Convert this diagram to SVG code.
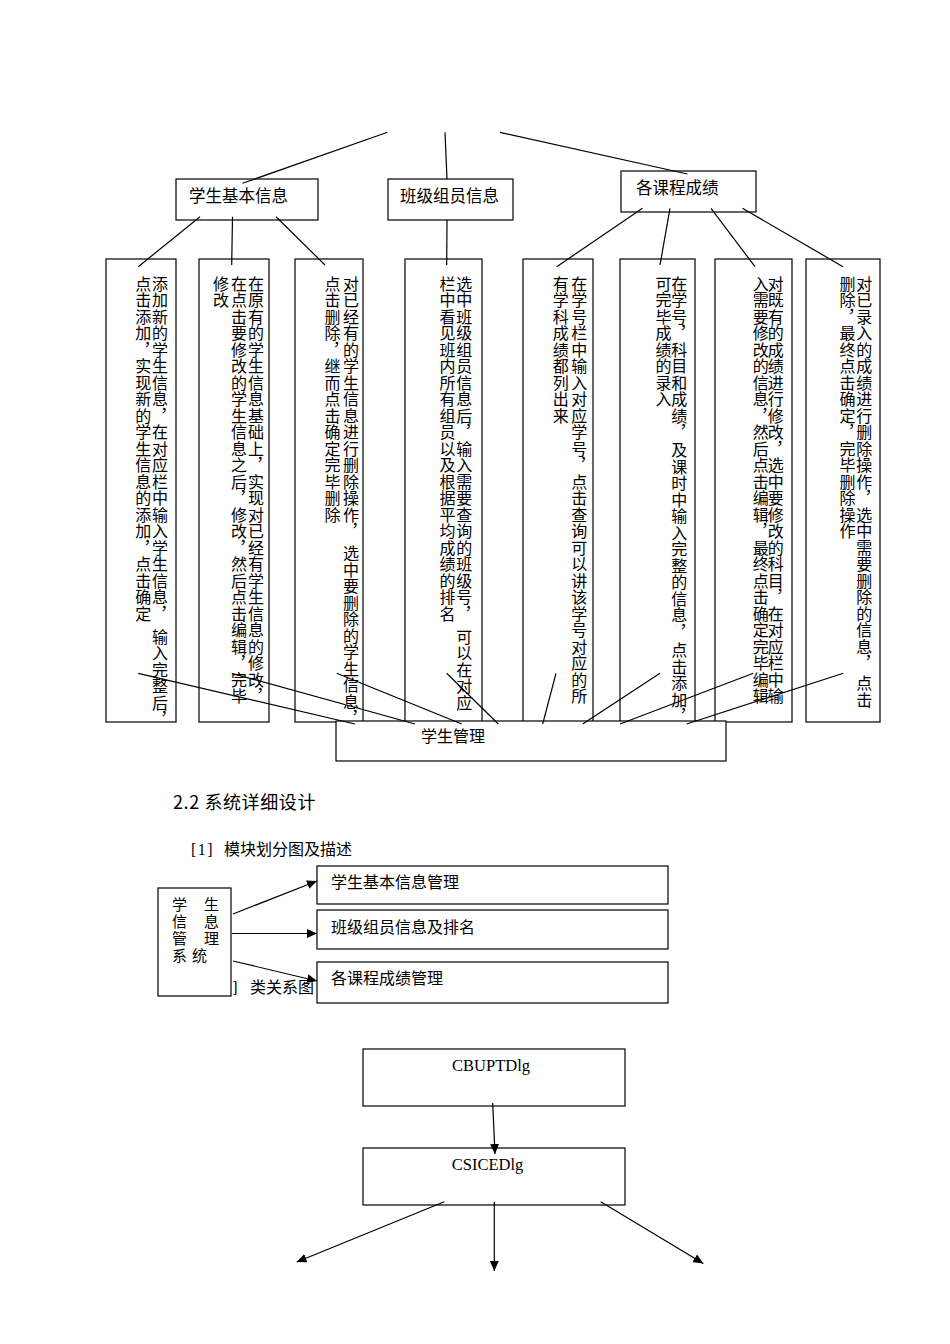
<svg xmlns="http://www.w3.org/2000/svg" width="950" height="1344" viewBox="0 0 950 1344">
<style>
.box{fill:#fff;stroke:#000;stroke-width:1.2}
.ln{stroke:#000;stroke-width:1.2;fill:none}
.t{font-family:"Noto Sans CJK SC","Noto Sans",sans-serif;font-size:16px;fill:#000}
.vt{font-family:"Noto Sans CJK SC",sans-serif;font-size:16px;writing-mode:vertical-rl;letter-spacing:0.5px;fill:#000}
.vs{font-family:"Noto Sans CJK SC",sans-serif;font-size:15px;writing-mode:vertical-rl;letter-spacing:1.8px;fill:#000}
.sf{font-family:"Liberation Serif",serif;font-size:16.5px;fill:#000}
</style>
<defs>
<marker id="ah" markerWidth="11" markerHeight="9" refX="10" refY="4.5" orient="auto" markerUnits="userSpaceOnUse"><path d="M0,0 L10,4.5 L0,9 z" fill="#000"/></marker>
</defs>
<rect width="950" height="1344" fill="#fff"/>

<!-- top level category boxes -->
<g id="n-basic"><rect class="box" x="176" y="179" width="142" height="41"/><text class="t" x="189" y="202" style="font-size:16.5px">学生基本信息</text></g>
<g id="n-class"><rect class="box" x="388" y="179" width="125" height="41"/><text class="t" x="400" y="202" style="font-size:16.5px">班级组员信息</text></g>
<g id="n-course"><rect class="box" x="621" y="171" width="135" height="41"/><text class="t" x="636" y="194" style="font-size:16.5px">各课程成绩</text></g>

<!-- vertical description boxes -->
<g id="v1"><rect class="box" x="106" y="259" width="70" height="463"/>
<text class="vt" x="160" y="275.5">添加新的学生信息，在对应栏中输入学生信息，</text>
<text class="vt" x="160" y="628.7">输入完整后，</text>
<text class="vt" x="143.3" y="275.5">点击添加，实现新的学生信息的添加，点击确定</text></g>
<g id="v2"><rect class="box" x="199" y="259" width="70" height="463"/>
<text class="vt" x="256" y="275.5">在原有的学生信息基础上，实现对已经有学生信息的修改，</text>
<text class="vt" x="239" y="275.5">在点击要修改的学生信息之后，修改，然后点击编辑，完毕</text>
<text class="vt" x="221" y="275.5">修改</text></g>
<g id="v3"><rect class="box" x="295" y="259" width="68" height="463"/>
<text class="vt" x="351" y="275.5">对已经有的学生信息进行删除操作，</text>
<text class="vt" x="351" y="545.3">选中要删除的学生信息，</text>
<text class="vt" x="332.5" y="275.5">点击删除，继而点击确定完毕删除</text></g>
<g id="v4"><rect class="box" x="405" y="259" width="77" height="463"/>
<text class="vt" x="464.2" y="275.5">选中班级组员信息后，输入需要查询的班级号，</text>
<text class="vt" x="464.2" y="628.7">可以在对应</text>
<text class="vt" x="447.5" y="275.5">栏中看见班内所有组员以及根据平均成绩的排名</text></g>
<g id="v5"><rect class="box" x="523" y="259" width="70" height="463"/>
<text class="vt" x="579.2" y="275.5">在学号栏中输入对应学号，点击查询可以讲该学号对应的所</text>
<text class="vt" x="560.8" y="275.5">有学科成绩都列出来</text></g>
<g id="v6"><rect class="box" x="620" y="259" width="75" height="463"/>
<text class="vt" x="679.2" y="275.5">在学号，科目和成绩，</text>
<text class="vt" x="679.2" y="442">及课时中输入完整的信息，</text>
<text class="vt" x="679.2" y="642">点击添加，</text>
<text class="vt" x="663.5" y="275.5">可完毕成绩的录入</text></g>
<g id="v7"><rect class="box" x="715" y="259" width="77" height="463"/>
<text class="vt" x="775.8" y="275.5">对既有的成绩进行修改，选中要修改的科目，在对应栏中输</text>
<text class="vt" x="760.8" y="275.5">入需要修改的信息，然后点击编辑，最终点击确定完毕编辑</text></g>
<g id="v8"><rect class="box" x="806" y="259" width="74" height="463"/>
<text class="vt" x="864.2" y="275.5">对已录入的成绩进行删除操作，选中需要删除的信息，</text>
<text class="vt" x="864.2" y="675">点击</text>
<text class="vt" x="847.5" y="275.5">删除，最终点击确定，完毕删除操作</text></g>

<!-- bottom box -->
<g id="n-manage"><rect class="box" x="336" y="721" width="390" height="40"/><text class="t" x="421" y="742">学生管理</text></g>

<!-- connectors of top diagram -->
<g id="connectors-top" class="ln">
<line x1="387.5" y1="132.3" x2="242.5" y2="183.3"/>
<line x1="445" y1="132.3" x2="447" y2="179.3"/>
<line x1="500" y1="132.3" x2="687.5" y2="174"/>
<line x1="200" y1="216.7" x2="138.3" y2="266.7"/>
<line x1="232.5" y1="216.7" x2="231.7" y2="265"/>
<line x1="276" y1="216.7" x2="325" y2="265"/>
<line x1="447" y1="220" x2="446.7" y2="265"/>
<line x1="642.5" y1="208.3" x2="556.7" y2="266.7"/>
<line x1="670" y1="208.3" x2="660" y2="265"/>
<line x1="711" y1="208.3" x2="755" y2="266.7"/>
<line x1="742.5" y1="208.3" x2="843" y2="266.7"/>
<line x1="138.3" y1="673.3" x2="355" y2="724"/>
<line x1="231.7" y1="673.3" x2="415" y2="724"/>
<line x1="336.7" y1="673.3" x2="461.7" y2="724"/>
<line x1="446.7" y1="673.3" x2="498.3" y2="724"/>
<line x1="556" y1="673.3" x2="542.7" y2="724"/>
<line x1="660" y1="673.3" x2="582.7" y2="724"/>
<line x1="753.3" y1="673.3" x2="620" y2="724"/>
<line x1="843.3" y1="673.3" x2="686.7" y2="724"/>
</g>

<!-- section headings -->
<text class="t" x="173" y="809" style="font-size:18px" letter-spacing="0.6">2.2 系统详细设计</text>
<text class="sf" x="191" y="855" style="font-size:16px" letter-spacing="1.5">[1]</text>
<text class="t" x="224" y="855">模块划分图及描述</text>
<text class="sf" x="216" y="993" style="font-size:16px" letter-spacing="1.5">[2]</text>
<text class="t" x="250" y="993">类关系图</text>

<!-- module diagram -->
<g id="m-sys"><rect class="box" x="158" y="888" width="73" height="108"/>
<text class="vs" x="179.5" y="897">学信管系</text>
<text class="vs" x="211.5" y="897">生息理</text>
<text class="vs" x="199.5" y="947.4">统</text></g>
<g id="m-basic"><rect class="box" x="317" y="866" width="351" height="38"/><text class="t" x="331" y="888">学生基本信息管理</text></g>
<g id="m-class"><rect class="box" x="317" y="910" width="351" height="39"/><text class="t" x="331" y="933">班级组员信息及排名</text></g>
<g id="m-course"><rect class="box" x="317" y="962" width="351" height="41"/><text class="t" x="331" y="984">各课程成绩管理</text></g>

<g id="connectors-module" class="ln">
<line x1="233" y1="914" x2="317" y2="881" marker-end="url(#ah)"/>
<line x1="232" y1="933.5" x2="317" y2="933.5" marker-end="url(#ah)"/>
<line x1="233" y1="961" x2="317" y2="981" marker-end="url(#ah)"/>
</g>

<!-- class diagram -->
<g id="c-bupt"><rect class="box" x="363" y="1049" width="262" height="57"/><text class="sf" x="491" y="1071" text-anchor="middle">CBUPTDlg</text></g>
<g id="c-sice"><rect class="box" x="363" y="1148" width="262" height="57"/><text class="sf" x="487.5" y="1170" text-anchor="middle">CSICEDlg</text></g>

<g id="connectors-class" class="ln">
<line x1="492.7" y1="1103" x2="495" y2="1154" marker-end="url(#ah)"/>
<line x1="444.3" y1="1201.7" x2="296.7" y2="1262" marker-end="url(#ah)"/>
<line x1="494.3" y1="1201.7" x2="494.3" y2="1271" marker-end="url(#ah)"/>
<line x1="600.7" y1="1201.7" x2="703.3" y2="1263.5" marker-end="url(#ah)"/>
</g>
</svg>
